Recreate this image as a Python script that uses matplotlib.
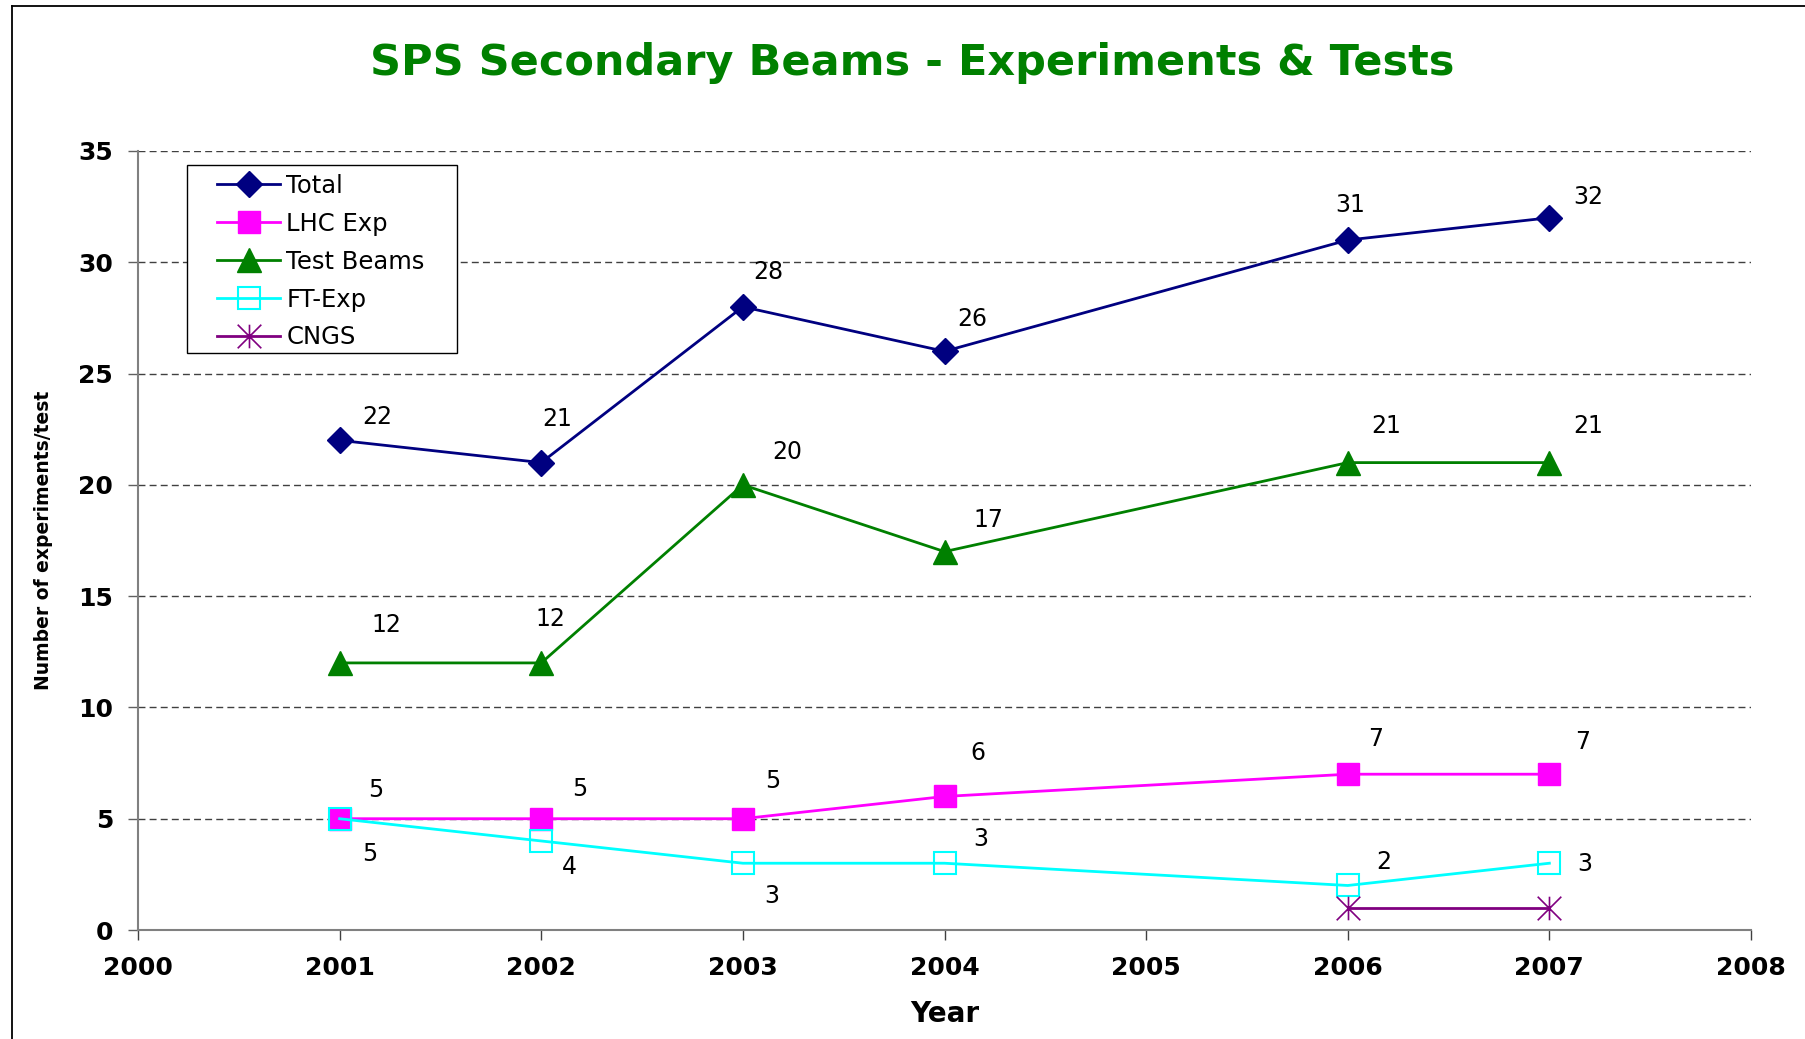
import matplotlib
matplotlib.use("Agg")
import matplotlib.pyplot as plt
from matplotlib.path import Path
from matplotlib.lines import Line2D
from matplotlib.patches import Rectangle

# ---------------- data ----------------
years = [2001, 2002, 2003, 2004, 2006, 2007]
total = [22, 21, 28, 26, 31, 32]
lhc_exp = [5, 5, 5, 6, 7, 7]
test_beams = [12, 12, 20, 17, 21, 21]
ft_exp = [5, 4, 3, 3, 2, 3]
cngs_years = [2006, 2007]
cngs = [1, 1]
x_ticks = [2000, 2001, 2002, 2003, 2004, 2005, 2006, 2007, 2008]
y_ticks = [0, 5, 10, 15, 20, 25, 30, 35]

# ---------------- layout (label offsets in pixels) ----------------
off_total = [(38, 23), (16, 44), (25, 35), (28, 32), (2, 35), (39, 21)]
off_test = [(47, 38), (9, 44), (44, 33), (44, 32), (38, 37), (39, 37)]
off_lhc = [(36, 29), (38, 30), (30, 38), (33, 43), (28, 35), (33, 32)]
off_ft = [(30, -35), (28, -26), (29, -33), (36, 24), (36, 23), (35, -1)]

W, H = 1805, 1039
fig = plt.figure(figsize=(W / 100, H / 100), dpi=100)
fig.patch.set_facecolor("white")
ax = fig.add_axes([138 / W, 1 - 930 / H, (1751 - 138) / W, (930 - 151) / H])

asterisk = Path([(-1, -1), (1, 1), (-1, 1), (1, -1), (0, -1), (0, 1)],
                [Path.MOVETO, Path.LINETO, Path.MOVETO, Path.LINETO,
                 Path.MOVETO, Path.LINETO])

lw = 2.0
h_total, = ax.plot(years, total, color="#000080", lw=lw, marker="D", ms=13.5,
                   label="Total", zorder=3)
h_lhc, = ax.plot(years, lhc_exp, color="#FF00FF", lw=lw, marker="s", ms=16.5,
                 label="LHC Exp", zorder=3)
h_test, = ax.plot(years, test_beams, color="#008000", lw=lw, marker="^", ms=17,
                  label="Test Beams", zorder=3)
h_ft, = ax.plot(years, ft_exp, color="#00FFFF", lw=lw, marker="s", ms=16.5,
                markerfacecolor="none", markeredgewidth=1.5, label="FT-Exp", zorder=4)
h_cngs, = ax.plot(cngs_years, cngs, color="#800080", lw=lw, marker=asterisk, ms=17,
                  markerfacecolor="none", markeredgewidth=1.2, label="CNGS", zorder=4)

def label(xs, ys, offs):
    for x, y, (dx, dy) in zip(xs, ys, offs):
        ax.annotate(str(y), (x, y), xytext=(dx, dy), textcoords="offset pixels",
                    ha="center", va="center", fontsize=17, color="black")

label(years, total, off_total)
label(years, test_beams, off_test)
label(years, lhc_exp, off_lhc)
label(years, ft_exp, off_ft)

ax.set_xlim(2000, 2008)
ax.set_ylim(0, 35)
ax.set_xticks(x_ticks)
ax.set_yticks(y_ticks)
ax.set_xticklabels([str(v) for v in x_ticks], fontweight="bold", fontsize=18)
ax.set_yticklabels([str(v) for v in y_ticks], fontweight="bold", fontsize=18)
ax.tick_params(axis="x", direction="out", length=7, width=1, color="#404040", pad=12)
ax.tick_params(axis="y", direction="out", length=7, width=1, color="#606060", pad=11)

for s in ["top", "right"]:
    ax.spines[s].set_visible(False)
for s in ["left", "bottom"]:
    ax.spines[s].set_color("#808080")
    ax.spines[s].set_linewidth(1.5)

ax.yaxis.grid(True, linestyle=(0, (5, 3)), color="#404040", lw=1)
ax.set_axisbelow(True)

ax.set_xlabel("Year", fontsize=20, fontweight="bold", labelpad=14)
ax.set_ylabel("Number of experiments/test", fontsize=13.5, fontweight="bold", labelpad=18)

fig.text(912 / W, 1 - 63 / H, "SPS Secondary Beams - Experiments & Tests",
         ha="center", va="center", fontsize=31, fontweight="bold", color="#008000")

# legend frame drawn separately, legend content without frame
ax.add_patch(Rectangle((187 / W, 1 - 353 / H), (457 - 187) / W, (353 - 165) / H,
                       transform=fig.transFigure, facecolor="white",
                       edgecolor="black", lw=1.0, zorder=5, clip_on=False))
leg = ax.legend(handles=[h_total, h_lhc, h_test, h_ft, h_cngs],
                loc="upper left", bbox_to_anchor=(217 / W, 1 - 174 / H),
                bbox_transform=fig.transFigure, borderaxespad=0, borderpad=0,
                fontsize=17.5, frameon=False, handlelength=2.6, handletextpad=0.25,
                labelspacing=0.57)
leg.set_zorder(6)

# outer frame lines
fig.add_artist(Line2D([12 / W, 1], [1 - 6 / H, 1 - 6 / H], transform=fig.transFigure,
                      color="black", lw=1.3))
fig.add_artist(Line2D([12 / W, 12 / W], [0, 1 - 6 / H], transform=fig.transFigure,
                      color="black", lw=1.3))

fig.savefig("out.png", dpi=100, facecolor="white")
